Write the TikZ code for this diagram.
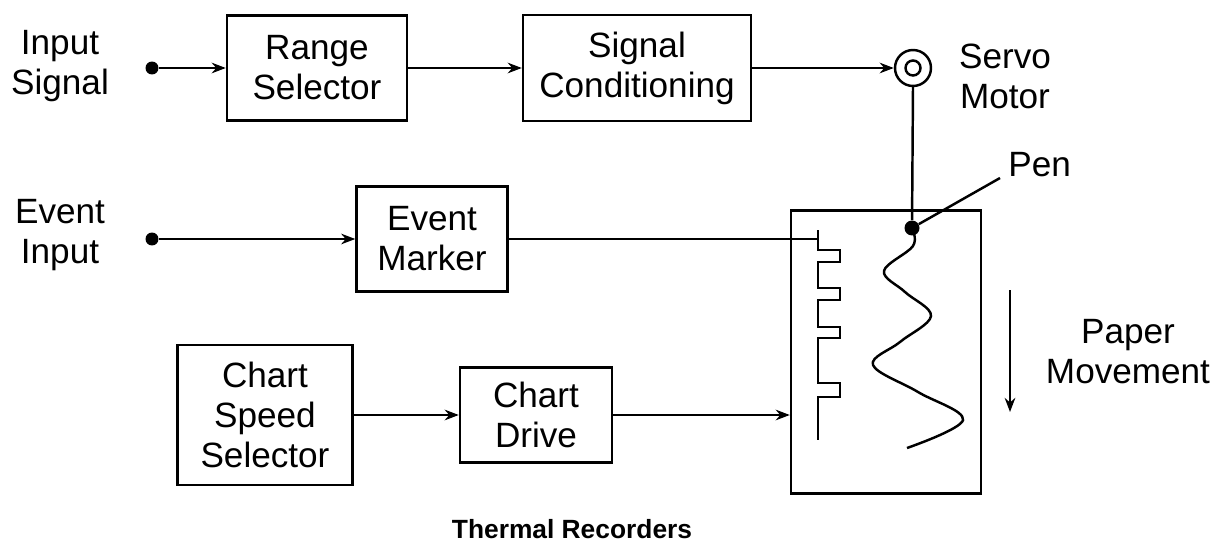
\documentclass[tikz,border=0pt]{standalone}
\usepackage{fontspec}
\setmainfont{Liberation Sans}
\usetikzlibrary{arrows.meta, positioning, calc}

\begin{document}
\begin{tikzpicture}[
    x=0.02cm, y=-0.02cm,
    every node/.style={font=\fontsize{20}{22.8}\selectfont},
    box/.style={rectangle, draw, line width=1.4pt, align=center, inner sep=0pt},
    lbl/.style={align=center, inner sep=0pt},
    dot/.style={circle, fill, inner sep=0pt, minimum size=0.26cm},
    wire/.style={line width=1.4pt},
    arrow/.style={wire, -{Stealth[length=8pt, width=6pt]}}
  ]
    \useasboundingbox (0,0) rectangle (1228,544);

    \node[lbl] (insig) at (60,66) {Input\\Signal};
    \node[dot] (indot) at (152,68) {};
    \node[box, minimum width=3.6cm, minimum height=2.1cm] (range) at (317,68)
      {Range\\Selector};
    \node[box, minimum width=4.56cm, minimum height=2.12cm] (cond) at (637,68)
      {Signal\\Conditioning};
    \node[circle, draw, line width=1.4pt, inner sep=0pt, minimum size=0.72cm] (servo)
      at (913,68) {};
    \node[circle, draw, line width=1.4pt, inner sep=0pt, minimum size=0.3cm] (servoin)
      at (servo) {};
    \node[lbl] (servolbl) at (1005,76) {Servo\\Motor};

    \node[lbl] (evin) at (60,235) {Event\\Input};
    \node[dot] (evdot) at (152,239) {};
    \node[box, minimum width=3.02cm, minimum height=2.1cm] (marker) at (432,239)
      {Event\\Marker};

    \node[box, minimum width=3.5cm, minimum height=2.8cm] (speed) at (265,415)
      {Chart\\Speed\\Selector};
    \node[box, minimum width=3.04cm, minimum height=1.9cm] (drive) at (536,415)
      {Chart\\Drive};

    \node[box, minimum width=3.8cm, minimum height=5.66cm] (rec) at (886,352) {};
    \node[circle, fill, inner sep=0pt, minimum size=0.3cm] (pen) at (912,228) {};
    \node[lbl, anchor=base west] (penlbl) at (1008,176) {Pen};
    \coordinate (penend) at (1000,178);
    \coordinate (mk) at (818,239);

    \coordinate (ptop) at (1010,290);
    \coordinate (pbot) at (1010,412);
    \node[lbl] (paperlbl) at (1128,352) {Paper\\Movement};

    \node[lbl, font=\fontsize{15}{18}\selectfont\bfseries] (title) at (572,529)
      {Thermal Recorders};

    \draw[arrow] (indot) -- (range);
    \draw[arrow] (range) -- (cond);
    \draw[arrow] (cond) -- (servo);
    \draw[wire] (servo.south) -- (pen);
    \draw[wire] (pen) -- (penend);

    \draw[arrow] (evdot) -- (marker);
    \draw[wire] (marker) -- (marker -| mk);
    \draw[wire] (818,230) -- (818,250) -- (840,250) -- (840,262) -- (818,262)
      -- (818,288) -- (840,288) -- (840,300) -- (818,300)
      -- (818,327) -- (840,327) -- (840,338) -- (818,338)
      -- (818,383) -- (840,383) -- (840,397) -- (818,397) -- (818,440);
    \draw[wire] plot[smooth, tension=0.6] coordinates {(pen) (913,246) (884,271)
      (905,292) (931,316) (900,342) (873,365) (918,392) (963,420) (907,448)};

    \draw[arrow] (speed) -- (drive);
    \draw[arrow] (drive) -- (drive -| rec.west);
    \draw[arrow] (ptop) -- (pbot);
  \end{tikzpicture}
\end{document}
